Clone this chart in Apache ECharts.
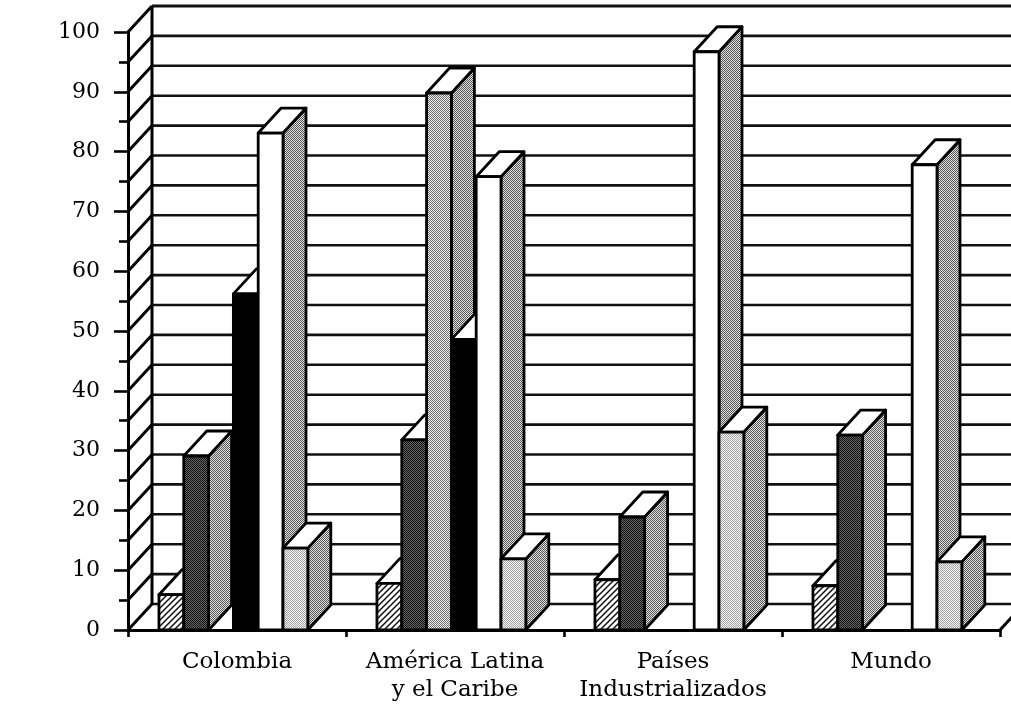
<!DOCTYPE html>
<html>
<head>
<meta charset="utf-8">
<script src="https://cdn.jsdelivr.net/npm/echarts@6/dist/echarts.min.js"></script>
<style>
  html, body { margin: 0; padding: 0; background: #fff; }
  #chart { width: 1011px; height: 711px; }
</style>
</head>
<body>
<div id="chart"></div>
<script>
// Categories along the floor of the 3-D box
const categories = ['Colombia', 'América Latina\ny el Caribe', 'Países\nIndustrializados', 'Mundo'];

// Value axis ticks (percent)
const yTicks = [0, 10, 20, 30, 40, 50, 60, 70, 80, 90, 100];

// One array per bar pattern, in left-to-right order within each group (null = no bar)
const hatchedValues = [5.9, 7.8, 8.4, 7.4];
const darkValues    = [29.1, 31.8, 18.9, 32.6];
const grayValues    = [null, 89.8, null, null];
const blackValues   = [56.2, 48.6, null, null];
const whiteValues   = [83.1, 75.8, 96.7, 77.8];
const lightValues   = [13.7, 11.9, 33.1, 11.4];

// Oblique projection of the box depth
const WALL_DX = 24, WALL_DY = -26;
const BAR_DX = 23, BAR_DY = -25;
// Bar placement inside a category band (fractions of the band)
const BAR_START = 0.142, BAR_STEP = 0.1138;

// Ordered-dither fill (halftone look)
function ditherPattern(level, ink, paper) {
  const bayer = [[0, 8, 2, 10], [12, 4, 14, 6], [3, 11, 1, 9], [15, 7, 13, 5]];
  const c = document.createElement('canvas');
  c.width = 4; c.height = 4;
  const ctx = c.getContext('2d');
  ctx.fillStyle = paper; ctx.fillRect(0, 0, 4, 4);
  ctx.fillStyle = ink;
  for (let y = 0; y < 4; y++) {
    for (let x = 0; x < 4; x++) {
      if ((bayer[y][x] + 0.5) / 16 < level) ctx.fillRect(x, y, 1, 1);
    }
  }
  return { image: c, repeat: 'repeat' };
}

// Diagonal "///" hatching on white
function hatchPattern() {
  const s = 6;
  const c = document.createElement('canvas');
  c.width = s; c.height = s;
  const ctx = c.getContext('2d');
  ctx.fillStyle = '#fff'; ctx.fillRect(0, 0, s, s);
  ctx.strokeStyle = '#111'; ctx.lineWidth = 1.5;
  ctx.beginPath();
  ctx.moveTo(-1, s + 1); ctx.lineTo(s + 1, -1);
  ctx.moveTo(-1, 1); ctx.lineTo(1, -1);
  ctx.moveTo(s - 1, s + 1); ctx.lineTo(s + 1, s - 1);
  ctx.stroke();
  return { image: c, repeat: 'repeat' };
}

const sideFill = ditherPattern(0.5, '#555', '#e2e2e2');
const fills = [
  hatchPattern(),
  ditherPattern(0.5, '#111', '#666'),
  ditherPattern(0.5, '#707070', '#eeeeee'),
  '#000',
  '#fff',
  ditherPattern(0.5, '#a2a2a2', '#f6f6f6')
];
const seriesValues = [hatchedValues, darkValues, grayValues, blackValues, whiteValues, lightValues];

const edge = { stroke: '#000', lineWidth: 2.8, lineJoin: 'round' };

// Back wall, side wall and floor of the box
function renderWalls(params, api) {
  const cs = params.coordSys;
  const x0 = cs.x, x1 = cs.x + cs.width;
  const yMin = yTicks[0], yMax = yTicks[yTicks.length - 1];
  const step = (yTicks[1] - yTicks[0]) / 2;
  const children = [];
  for (let v = yMin; v <= yMax + 1e-9; v += step) {
    const y = api.coord([0, v])[1];
    children.push({
      type: 'line',
      shape: { x1: x0 + WALL_DX, y1: y + WALL_DY, x2: x1 + WALL_DX + 30, y2: y + WALL_DY },
      style: { stroke: '#111', lineWidth: v === yMax ? 3.2 : 2.6 }
    });
    children.push({
      type: 'line',
      shape: { x1: x0, y1: y, x2: x0 + WALL_DX, y2: y + WALL_DY },
      style: { stroke: '#000', lineWidth: 3 }
    });
  }
  const yb = api.coord([0, yMin])[1];
  const yt = api.coord([0, yMax])[1];
  children.push({
    type: 'line',
    shape: { x1: x0 + WALL_DX, y1: yt + WALL_DY, x2: x0 + WALL_DX, y2: yb + WALL_DY },
    style: { stroke: '#000', lineWidth: 3 }
  });
  children.push({
    type: 'line',
    shape: { x1: x1, y1: yb, x2: x1 + WALL_DX, y2: yb + WALL_DY },
    style: { stroke: '#000', lineWidth: 3 }
  });
  return { type: 'group', children };
}

function barRenderer(slot) {
  return function (params, api) {
    const ci = api.value(0), v = api.value(1);
    const p0 = api.coord([ci, 0]);
    const p1 = api.coord([ci, v]);
    const band = api.size([1, 0])[0];
    const x = p0[0] - band / 2 + band * (BAR_START + slot * BAR_STEP);
    const w = band * BAR_STEP;
    const yb = p0[1], yt = p1[1];
    return {
      type: 'group',
      children: [
        { type: 'polygon',
          shape: { points: [[x + w, yt], [x + w + BAR_DX, yt + BAR_DY], [x + w + BAR_DX, yb + BAR_DY], [x + w, yb]] },
          style: Object.assign({ fill: sideFill }, edge) },
        { type: 'polygon',
          shape: { points: [[x, yt], [x + w, yt], [x + w + BAR_DX, yt + BAR_DY], [x + BAR_DX, yt + BAR_DY]] },
          style: Object.assign({ fill: '#fff' }, edge) },
        { type: 'rect',
          shape: { x: x, y: yt, width: w, height: yb - yt },
          style: Object.assign({ fill: fills[slot] }, edge) }
      ]
    };
  };
}

const series = [{
  type: 'custom',
  name: 'box',
  coordinateSystem: 'cartesian2d',
  renderItem: renderWalls,
  data: [[0, 0]],
  clip: false,
  silent: true,
  z: 1
}];
seriesValues.forEach((vals, slot) => {
  series.push({
    type: 'custom',
    coordinateSystem: 'cartesian2d',
    renderItem: barRenderer(slot),
    data: vals.map((v, i) => (v == null ? null : [i, v])).filter(d => d !== null),
    clip: false,
    silent: true,
    z: 2
  });
});

const chart = echarts.init(document.getElementById('chart'), null, { renderer: 'canvas' });
chart.setOption({
  animation: false,
  backgroundColor: '#fff',
  grid: { left: 128, right: 11, top: 32, bottom: 81, containLabel: false, outerBoundsMode: 'none' },
  xAxis: {
    type: 'category',
    data: categories,
    boundaryGap: true,
    axisLine: { show: true, lineStyle: { color: '#000', width: 3 } },
    axisTick: { show: true, length: 7, lineStyle: { color: '#000', width: 2.6 } },
    axisLabel: {
      interval: 0, margin: 18, color: '#000',
      fontFamily: 'DejaVu Serif', fontSize: 23, lineHeight: 28
    },
    splitLine: { show: false }
  },
  yAxis: {
    type: 'value',
    min: yTicks[0],
    max: yTicks[yTicks.length - 1],
    interval: yTicks[1] - yTicks[0],
    axisLine: { show: true, lineStyle: { color: '#000', width: 3 } },
    axisTick: { show: true, length: 14, lineStyle: { color: '#000', width: 2.6 } },
    minorTick: { show: true, splitNumber: 2, length: 9, lineStyle: { color: '#000', width: 2.6 } },
    axisLabel: {
      margin: 28, color: '#000',
      fontFamily: 'DejaVu Serif', fontSize: 22
    },
    splitLine: { show: false }
  },
  series: series
});
</script>
</body>
</html>
